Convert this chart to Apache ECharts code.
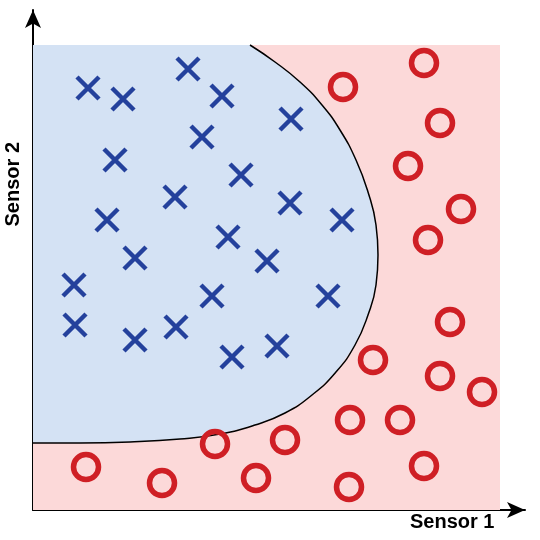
<!DOCTYPE html>
<html>
<head>
<meta charset="utf-8" />
<title>sensor classes</title>
<script src="https://cdn.jsdelivr.net/npm/echarts@6/dist/echarts.min.js"></script>
<style>html,body{margin:0;background:#fff}#main{width:540px;height:540px}</style>
</head>
<body>
<div id="main"></div>
<script>
// class A (crosses) and class B (circles), in picture units: x right, y up from the x axis
var crossPts = [[88,422],[123,411],[188,441],[222,414],[291,391],[202,373],[115,350],[241,335],[175,313],[107,290],[290,307],[342,290],[228,273],[135,252],[267,249],[74,225],[212,214],[328,214],[75,185],[176,183],[135,170],[277,164],[232,153]];
var circlePts = [[424,447],[343,423],[440,387],[408,344],[461,301],[428,270],[450,188],[373,150],[440,134],[482,118],[350,90],[400,90],[285,70],[215,66],[256,32],[162,27],[86,43],[349,23],[424,44]];
// decision boundary
var boundary = [[250,465],[275,448],[300,428],[322,405],[340,380],[356,350],[368,318],[376,285],[378,255],[376,225],[368,195],[355,165],[336,138],[312,115],[285,97],[255,85],[220,76],[180,71],[130,68],[80,67],[33,67]];
var regionBox = [33, 0, 500, 465];

var myChart = echarts.init(document.getElementById('main'));
myChart.setOption({
  animation: false,
  grid: { left: 33, right: 15, top: 10, bottom: 30 },
  xAxis: {
    type: 'value', min: 33, max: 525,
    axisLine: { lineStyle: { color: '#000', width: 2 }, symbol: ['none', 'arrow'], symbolSize: [12, 18] },
    axisTick: { show: false }, axisLabel: { show: false }, splitLine: { show: false }
  },
  yAxis: {
    type: 'value', min: 0, max: 500,
    axisLine: { lineStyle: { color: '#000', width: 2 }, symbol: ['none', 'arrow'], symbolSize: [12, 18] },
    axisTick: { show: false }, axisLabel: { show: false }, splitLine: { show: false }
  },
  graphic: [
    { type: 'text', left: 410, top: 512, style: { text: 'Sensor 1', font: 'bold 20px "Liberation Sans Narrow", "Arial Narrow", sans-serif', fill: '#000' } },
    { type: 'text', left: 3, top: 142, rotation: Math.PI / 2, style: { text: 'Sensor 2', font: 'bold 20px "Liberation Sans Narrow", "Arial Narrow", sans-serif', fill: '#000' } }
  ],
  series: [
    {
      type: 'custom', z: 1, silent: true,
      data: [0],
      renderItem: function (params, api) {
        var a = api.coord([regionBox[0], regionBox[1]]);
        var b = api.coord([regionBox[2], regionBox[3]]);
        var pts = [api.coord([33, 465])];
        boundary.forEach(function (p) { pts.push(api.coord(p)); });
        return { type: 'group', children: [
          { type: 'rect', shape: { x: a[0], y: b[1], width: b[0] - a[0], height: a[1] - b[1] }, style: { fill: '#fcd9d9' } },
          { type: 'polygon', shape: { points: pts }, style: { fill: '#d4e2f4' } }
        ] };
      }
    },
    {
      type: 'line', z: 2, data: boundary, smooth: true, symbol: 'none',
      lineStyle: { color: '#000', width: 1.5 }
    },
    {
      type: 'scatter', z: 3, data: crossPts, symbol: 'path://M0,0L10,10M10,0L0,10', symbolSize: 22,
      itemStyle: { color: 'transparent', borderColor: '#24419c', borderWidth: 4.5, opacity: 1 }
    },
    {
      type: 'scatter', z: 3, data: circlePts, symbol: 'circle', symbolSize: 25,
      itemStyle: { color: 'transparent', borderColor: '#cf1f25', borderWidth: 5.5, opacity: 1 }
    }
  ]
});
</script>
</body>
</html>
